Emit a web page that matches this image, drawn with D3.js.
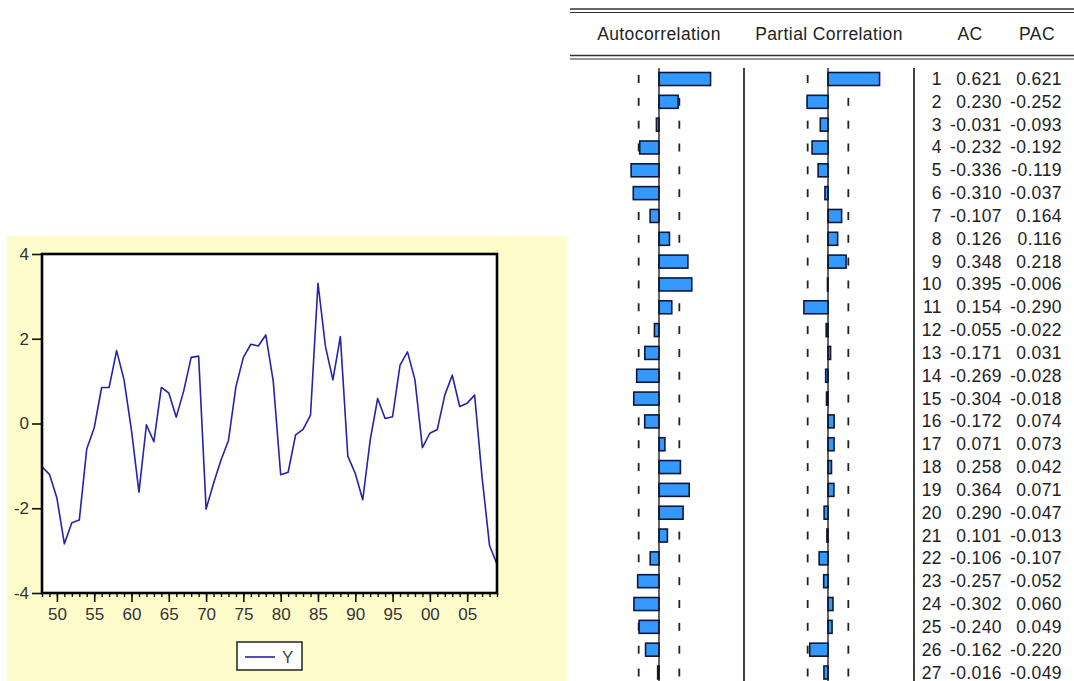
<!DOCTYPE html>
<html>
<head>
<meta charset="utf-8">
<script src="https://cdn.jsdelivr.net/npm/d3@7/dist/d3.min.js"></script>
<style>
  html, body { margin: 0; padding: 0; background: #ffffff; }
  svg { display: block; }
  text { font-family: "Liberation Sans", Arial, sans-serif; }
</style>
</head>
<body>
<svg id="chart" width="1074" height="681"></svg>
<script>
// ---- Series Y, annual 1948-2009 ----
const firstYear = 1948;
const seriesY = [
  -1.02, -1.20, -1.76, -2.84, -2.34, -2.28, -0.60, -0.10, 0.85, 0.85,
   1.72,  1.03, -0.17, -1.62, -0.03, -0.43,  0.85,  0.72, 0.15, 0.77,
   1.56,  1.59, -2.02, -1.41, -0.86, -0.40,  0.87,  1.56, 1.87, 1.83,
   2.09,  1.00, -1.21, -1.15, -0.27, -0.14,  0.20,  3.31, 1.82, 1.03,
   2.05, -0.77, -1.18, -1.80, -0.39,  0.59,  0.12,  0.16, 1.38, 1.69,
   1.03, -0.57, -0.23, -0.14,  0.67,  1.14,  0.40,  0.48, 0.67, -1.27,
  -2.88, -3.32
];
const yTicks = [-4, -2, 0, 2, 4];
const xMajorTicks = [1950, 1955, 1960, 1965, 1970, 1975, 1980, 1985, 1990, 1995, 2000, 2005];

// ---- Correlogram ----
const lags = d3.range(1, 28);
const acValues = [
   0.621,  0.230, -0.031, -0.232, -0.336, -0.310, -0.107,  0.126,  0.348,  0.395,
   0.154, -0.055, -0.171, -0.269, -0.304, -0.172,  0.071,  0.258,  0.364,  0.290,
   0.101, -0.106, -0.257, -0.302, -0.240, -0.162, -0.016
];
const pacValues = [
   0.621, -0.252, -0.093, -0.192, -0.119, -0.037,  0.164,  0.116,  0.218, -0.006,
  -0.290, -0.022,  0.031, -0.028, -0.018,  0.074,  0.073,  0.042,  0.071, -0.047,
  -0.013, -0.107, -0.052,  0.060,  0.049, -0.220, -0.049
];
const confBound = 0.245;
const headers = ["Autocorrelation", "Partial Correlation", "AC", "PAC"];

const svg = d3.select("#chart");
// plain ASCII hyphen for negative numbers
const ascii = f => d => f(d).replace("\u2212", "-");
const fmt3 = ascii(d3.format(".3f"));
const fmtInt = ascii(d3.format("d"));

// ================= Line graph panel =================
const panel = svg.append("g");
panel.append("rect")
  .attr("x", 7).attr("y", 236).attr("width", 560).attr("height", 445)
  .attr("fill", "#fffccb");

const plot = { left: 42, right: 497, top: 254, bottom: 593 };
const years = seriesY.map((d, i) => firstYear + i);
const x = d3.scaleLinear().domain([firstYear, firstYear + seriesY.length - 1]).range([plot.left, plot.right]);
const y = d3.scaleLinear().domain([-4, 4]).range([plot.bottom, plot.top]);

panel.append("rect")
  .attr("x", plot.left).attr("y", plot.top)
  .attr("width", plot.right - plot.left).attr("height", plot.bottom - plot.top)
  .attr("fill", "#ffffff");

// y axis
const yAxis = d3.axisLeft(y).tickValues(yTicks).tickSize(10).tickPadding(3).tickFormat(fmtInt);
const gy = panel.append("g").attr("transform", `translate(${plot.left},0)`).call(yAxis);
gy.select(".domain").remove();
gy.selectAll(".tick line").attr("stroke", "#111").attr("stroke-width", 1.6);
gy.selectAll(".tick text").attr("fill", "#333").style("font-size", "17px");

// x axis: minor ticks every year, labelled major ticks every five years
const xMinor = d3.axisBottom(x).tickValues(years).tickSize(4).tickFormat("");
const gxm = panel.append("g").attr("transform", `translate(0,${plot.bottom})`).call(xMinor);
gxm.select(".domain").remove();
gxm.selectAll(".tick line").attr("stroke", "#111").attr("stroke-width", 1.4);

const xAxis = d3.axisBottom(x).tickValues(xMajorTicks).tickSize(9).tickPadding(6)
  .tickFormat(d => d3.format("02d")(d % 100));
const gx = panel.append("g").attr("transform", `translate(0,${plot.bottom})`).call(xAxis);
gx.select(".domain").remove();
gx.selectAll(".tick line").attr("stroke", "#111").attr("stroke-width", 1.6);
gx.selectAll(".tick text").attr("fill", "#333").style("font-size", "17px");

// series line
const line = d3.line().x((d, i) => x(years[i])).y(d => y(d));
panel.append("path")
  .datum(seriesY)
  .attr("d", line)
  .attr("fill", "none")
  .attr("stroke", "#2424a6")
  .attr("stroke-width", 1.6)
  .attr("stroke-linejoin", "round");

// frame
panel.append("rect")
  .attr("x", plot.left).attr("y", plot.top)
  .attr("width", plot.right - plot.left).attr("height", plot.bottom - plot.top)
  .attr("fill", "none").attr("stroke", "#000").attr("stroke-width", 2.6);

// legend
const lg = panel.append("g");
lg.append("rect").attr("x", 237).attr("y", 642).attr("width", 65).attr("height", 28)
  .attr("fill", "#ffffff").attr("stroke", "#222").attr("stroke-width", 1.5);
lg.append("line").attr("x1", 245).attr("x2", 275).attr("y1", 657).attr("y2", 657)
  .attr("stroke", "#2424a6").attr("stroke-width", 1.6);
lg.append("text").attr("x", 282).attr("y", 663).text("Y")
  .attr("fill", "#444").style("font-size", "17px");

// ================= Correlogram table =================
const tbl = svg.append("g");
const tableLeft = 570, tableRight = 1074;
const ruleColor = "#333";

[[9, 1.6], [12.5, 1], [55.5, 1.6], [59, 1]].forEach(([yy, w]) => {
  tbl.append("line").attr("x1", tableLeft).attr("x2", tableRight)
    .attr("y1", yy).attr("y2", yy)
    .attr("stroke", ruleColor).attr("stroke-width", w);
});

const headerX = [659, 829, 970, 1037];
tbl.selectAll("text.hdr").data(headers).join("text")
  .attr("class", "hdr")
  .attr("x", (d, i) => headerX[i]).attr("y", 40)
  .attr("text-anchor", "middle")
  .attr("fill", "#222")
  .style("font-size", "17.5px").style("letter-spacing", "0.4px")
  .text(d => d);

const row = d3.scaleLinear().domain([1, 27]).range([79, 672.5]);
const barH = 13;
const pxPerUnit = 83;
const acX = d3.scaleLinear().domain([-1, 1]).range([659 - pxPerUnit, 659 + pxPerUnit]);
const pacX = d3.scaleLinear().domain([-1, 1]).range([828 - pxPerUnit, 828 + pxPerUnit]);

const colTop = 68, colBottom = 681;

// separators between the graphical columns and the numbers
[744, 914].forEach(xx => {
  tbl.append("line").attr("x1", xx).attr("x2", xx).attr("y1", colTop).attr("y2", colBottom)
    .attr("stroke", "#111").attr("stroke-width", 1.6);
});

function drawCorrColumn(scale, values) {
  const g = tbl.append("g");
  // confidence band marks
  [-confBound, confBound].forEach(b => {
    g.selectAll(null).data(lags).join("line")
      .attr("x1", scale(b)).attr("x2", scale(b))
      .attr("y1", d => row(d) - 4).attr("y2", d => row(d) + 4)
      .attr("stroke", "#222").attr("stroke-width", 1.8);
  });
  // bars
  g.selectAll("rect").data(values).join("rect")
    .attr("x", d => Math.min(scale(0), scale(d)))
    .attr("width", d => Math.abs(scale(d) - scale(0)))
    .attr("y", (d, i) => row(lags[i]) - barH / 2)
    .attr("height", barH)
    .attr("fill", "#3399ff")
    .attr("stroke", "#10183a").attr("stroke-width", 1.6);
  // zero line
  g.append("line").attr("x1", scale(0)).attr("x2", scale(0))
    .attr("y1", colTop).attr("y2", colBottom)
    .attr("stroke", "#111").attr("stroke-width", 1.3);
}
drawCorrColumn(acX, acValues);
drawCorrColumn(pacX, pacValues);

// numeric columns
const numStyle = sel => sel.attr("fill", "#222").attr("text-anchor", "end")
  .style("font-size", "17.5px").style("letter-spacing", "0.4px");
tbl.selectAll("text.lag").data(lags).join("text").attr("class", "lag")
  .attr("x", 942).attr("y", d => row(d) + 6).text(d => d).call(numStyle);
tbl.selectAll("text.ac").data(acValues).join("text").attr("class", "ac")
  .attr("x", 1002).attr("y", (d, i) => row(lags[i]) + 6).text(d => fmt3(d)).call(numStyle);
tbl.selectAll("text.pac").data(pacValues).join("text").attr("class", "pac")
  .attr("x", 1062).attr("y", (d, i) => row(lags[i]) + 6).text(d => fmt3(d)).call(numStyle);
</script>
</body>
</html>
